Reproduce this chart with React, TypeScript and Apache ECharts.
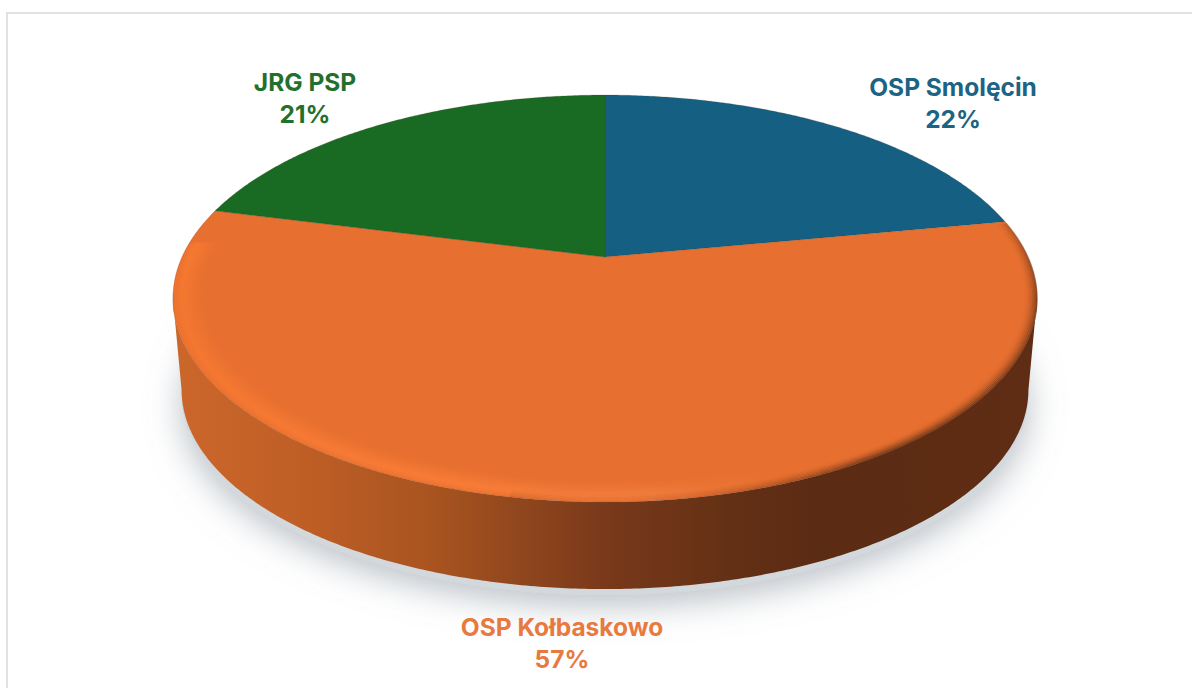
import React, { useEffect, useRef } from "react";
import * as echarts from "echarts";

const categories = ["OSP Smolęcin", "OSP Kołbaskowo", "JRG PSP"];
const shares = [22, 57, 21];
const sliceColors = ["#156082", "#e76f2f", "#196b24"];
const labelColors = ["#1d6384", "#e8793f", "#23702d"];
const labelCentres = [
  [953, 87],
  [562, 627],
  [305, 82],
];
const LINE_GAP = 32;

const CX = 605;
const Y0 = 257;
const A = 423;
const B = 195;
const K = 0.204;
const BASE_Y0 = 349;
const BASE_SCALE = 0.98;
const total = shares.reduce((a, b) => a + b, 0);

function project(deg: number, s = 1, y0 = Y0, scale = 1): number[] {
  const t = (deg * Math.PI) / 180;
  const u = Math.sin(t) * s;
  const v = Math.cos(t) * s;
  const w = 1 + K * v;
  return [CX + (A * scale * u) / w, y0 - (B * scale * v) / w];
}

function arc(from: number, to: number, s = 1, y0 = Y0, scale = 1): number[][] {
  const pts: number[][] = [];
  const steps = Math.max(2, Math.ceil(Math.abs(to - from) * 2));
  for (let i = 0; i <= steps; i++) pts.push(project(from + ((to - from) * i) / steps, s, y0, scale));
  return pts;
}

function sliceRange(i: number): number[] {
  const before = shares.slice(0, i).reduce((a, b) => a + b, 0);
  return [(before / total) * 360, ((before + shares[i]) / total) * 360];
}

const FRONT_FROM = (Math.acos(-K) * 180) / Math.PI;
const FRONT_TO = 360 - FRONT_FROM;

const wallGradient = new echarts.graphic.LinearGradient(
  173, 0, 1037, 0,
  [
    { offset: 0, color: "#cc672b" },
    { offset: 0.14, color: "#c05f26" },
    { offset: 0.3, color: "#a95420" },
    { offset: 0.5, color: "#79391a" },
    { offset: 0.65, color: "#633015" },
    { offset: 0.75, color: "#5b2b13" },
    { offset: 1, color: "#5f2d14" },
  ],
  true as any
);

function highlight(alpha: number) {
  return new echarts.graphic.LinearGradient(
    173, 0, 1037, 0,
    [
      { offset: 0, color: `rgba(255,126,50,${alpha})` },
      { offset: 0.35, color: `rgba(255,130,58,${alpha})` },
      { offset: 0.55, color: `rgba(248,134,70,${alpha * 0.8})` },
      { offset: 0.72, color: `rgba(240,120,50,0)` },
      { offset: 1, color: `rgba(240,120,50,0)` },
    ],
    true as any
  );
}

function darkEdge(alpha: number) {
  return new echarts.graphic.LinearGradient(
    0, 215, 0, 502,
    [
      { offset: 0, color: `rgba(90,42,18,${alpha * 0.25})` },
      { offset: 0.3, color: `rgba(90,42,18,${alpha})` },
      { offset: 0.85, color: `rgba(90,42,18,${alpha})` },
      { offset: 1, color: "rgba(90,42,18,0)" },
    ],
    true as any
  );
}

function renderBase(params: any, api: any) {
  const i = params.dataIndex;
  void api.value(0);
  const [a0, a1] = sliceRange(i);
  const from = Math.max(a0, FRONT_FROM);
  const to = Math.min(a1, FRONT_TO);
  if (from >= to) return null;
  const children: any[] = [];
  children.push({
    type: "polygon",
    shape: { points: arc(0, 360, 1, BASE_Y0 + 6, BASE_SCALE) },
    style: {
      fill: "#d3d8dc",
      shadowBlur: 34,
      shadowColor: "rgba(130,140,150,0.55)",
      shadowOffsetX: 0,
      shadowOffsetY: 10,
    },
  });
  children.push({
    type: "polygon",
    shape: {
      points: [...arc(from, to), ...arc(to, from, 1, BASE_Y0, BASE_SCALE)],
    },
    style: { fill: wallGradient },
  });
  return { type: "group", children };
}

function renderTop(params: any, api: any) {
  const i = params.dataIndex;
  const [a0, a1] = sliceRange(i);
  const children: any[] = [];
  children.push({
    type: "polygon",
    shape: { points: [[CX, Y0], ...arc(a0, a1)] },
    style: { fill: sliceColors[i], stroke: "rgba(80,50,30,0.3)", lineWidth: 0.6 },
  });
  if (shares[i] > 50) {
    const hi = 18;
    for (let n = 0; n < hi; n++) {
      const f = n / (hi - 1);
      const s = 0.998 - f * 0.075;
      const profile = f < 0.25 ? 0.3 + (f / 0.25) * 0.7 : Math.pow(1 - (f - 0.25) / 0.75, 1.5);
      children.push({
        type: "polyline",
        shape: { points: arc(a0 + 18, a1 - 10, s) },
        style: { fill: "none", stroke: highlight(0.5 * profile), lineWidth: 2.5 },
      });
    }
    const dk = 9;
    for (let n = 0; n < dk; n++) {
      const f = n / (dk - 1);
      const s = 0.999 - f * 0.03;
      children.push({
        type: "polyline",
        shape: { points: arc(a0 + 0.5, a1 - 94, s) },
        style: { fill: "none", stroke: darkEdge(0.6 * (1 - f) * (1 - f)), lineWidth: 2 },
      });
    }
  }
  const [lx, ly] = labelCentres[i];
  const font = "700 24.5px Inter, 'Noto Sans', sans-serif";
  children.push({
    type: "text",
    x: lx,
    y: ly,
    style: {
      text: categories[i],
      fill: labelColors[i],
      font,
      textAlign: "center",
      textVerticalAlign: "middle",
    },
  });
  children.push({
    type: "text",
    x: lx,
    y: ly + LINE_GAP,
    style: {
      text: `${api.value(0)}%`,
      fill: labelColors[i],
      font,
      textAlign: "center",
      textVerticalAlign: "middle",
    },
  });
  return { type: "group", children };
}

export default function App() {
  const ref = useRef<HTMLDivElement>(null);
  useEffect(() => {
    const chart = echarts.init(ref.current!, null, { renderer: "svg" });
    chart.setOption({
      animation: false,
      backgroundColor: "#ffffff",
      graphic: [
        {
          type: "rect",
          z: -1,
          shape: { x: 6, y: 12, width: 1186, height: 2 },
          style: { fill: "#e1e1e1" },
        },
        {
          type: "rect",
          z: -1,
          shape: { x: 6, y: 12, width: 2, height: 676 },
          style: { fill: "#e1e1e1" },
        },
      ],
      series: [
        {
          type: "custom",
          coordinateSystem: "none",
          silent: true,
          clip: false,
          z: 2,
          data: shares,
          renderItem: renderBase,
        },
        {
          type: "custom",
          coordinateSystem: "none",
          silent: true,
          clip: false,
          z: 3,
          data: shares,
          renderItem: renderTop,
        },
      ],
    });
    return () => chart.dispose();
  }, []);
  return (
    <div
      ref={ref}
      style={{ position: "absolute", left: 0, top: 0, width: 1192, height: 688 }}
    />
  );
}
